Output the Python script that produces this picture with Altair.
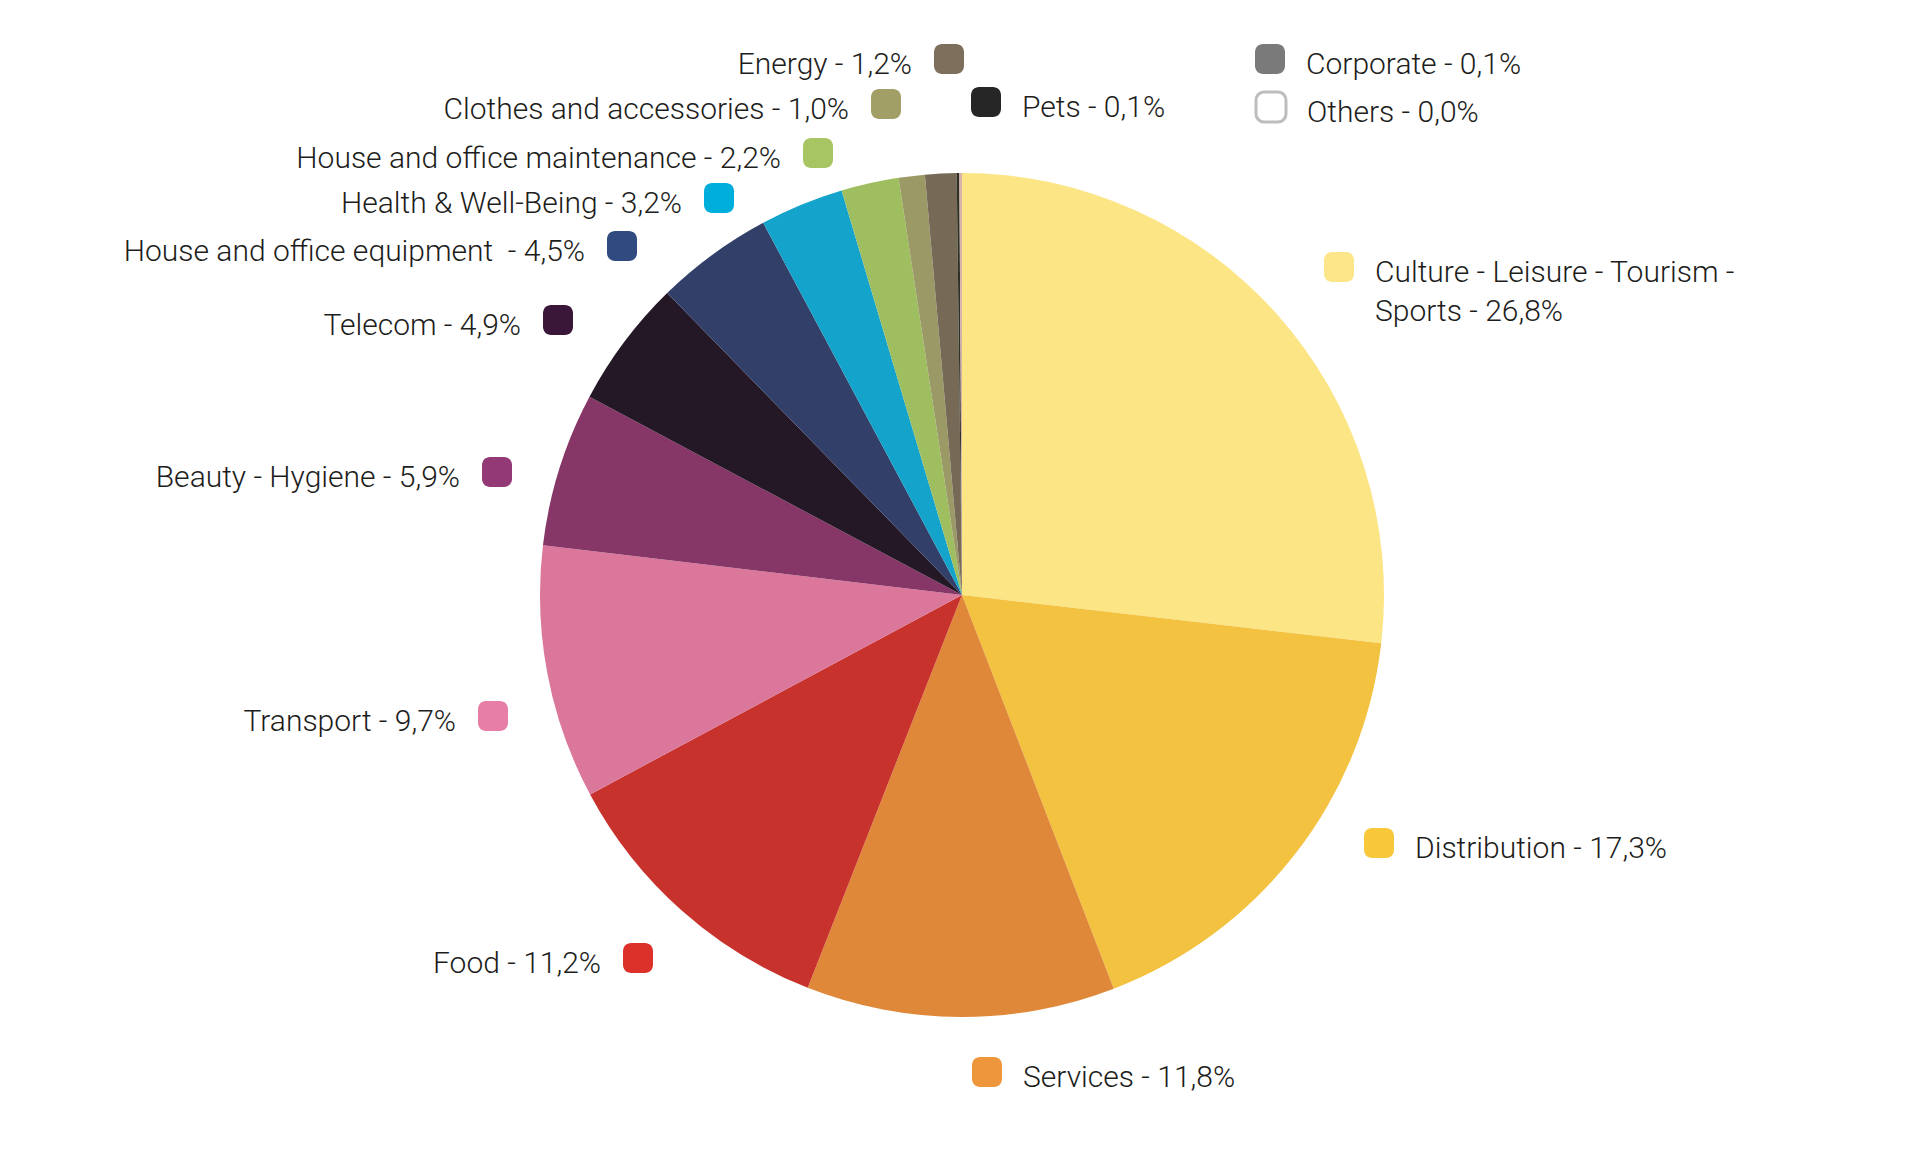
import altair as alt
import pandas as pd

# ---- data -------------------------------------------------------------
categories = [
    "Culture - Leisure - Tourism - Sports",
    "Distribution",
    "Services",
    "Food",
    "Transport",
    "Beauty - Hygiene",
    "Telecom",
    "House and office equipment",
    "Health & Well-Being",
    "House and office maintenance",
    "Clothes and accessories",
    "Energy",
    "Pets",
    "Corporate",
    "Others",
]
shares = [26.8, 17.3, 11.8, 11.2, 9.7, 5.9, 4.9, 4.5, 3.2, 2.2, 1.0, 1.2, 0.1, 0.1, 0.0]

# label wording as printed (line break / double space kept)
label_names = [
    "Culture - Leisure - Tourism -\nSports",
    "Distribution",
    "Services",
    "Food",
    "Transport",
    "Beauty - Hygiene",
    "Telecom",
    "House and office equipment\u00a0",
    "Health & Well-Being",
    "House and office maintenance",
    "Clothes and accessories",
    "Energy",
    "Pets",
    "Corporate",
    "Others",
]

# ---- styles -----------------------------------------------------------
slice_colors = [
    "#FCE584", "#F2C240", "#E08839", "#C8322D", "#DA779B", "#873767",
    "#241726", "#313F69", "#14A3CB", "#9EBE60", "#9B9966", "#766A57",
    "#2D3024", "#D9B3AA", "#FFFFFF",
]
swatch_colors = [
    "#FDE68A", "#F8C73A", "#EE963C", "#DC312B", "#E67EA6", "#933A76",
    "#3A1738", "#314A80", "#00AEDC", "#A8C564", "#A29F66", "#7E6F5D",
    "#262626", "#7A7A7A", "#FFFFFF",
]

# ---- label layout (swatch centres in page pixels, text side) ----------
layout = {
    "Culture - Leisure - Tourism - Sports": (1339, 267, "right"),
    "Distribution": (1379, 843, "right"),
    "Services": (987, 1072, "right"),
    "Food": (638, 958, "left"),
    "Transport": (493, 716, "left"),
    "Beauty - Hygiene": (497, 472, "left"),
    "Telecom": (558, 320, "left"),
    "House and office equipment": (622, 246, "left"),
    "Health & Well-Being": (719, 198, "left"),
    "House and office maintenance": (818, 153, "left"),
    "Clothes and accessories": (886, 104, "left"),
    "Energy": (949, 59, "left"),
    "Pets": (986, 102, "right"),
    "Corporate": (1270, 59, "right"),
    "Others": (1271, 107, "right"),
}

MARGIN = 8
CX, CY, R = 962 - MARGIN, 595 - MARGIN, 422
SW = 15  # half swatch size


def fmt(v):
    return f"{v:.1f}%".replace(".", ",")


rows = []
for i, (cat, v) in enumerate(zip(categories, shares)):
    sx, sy, side = layout[cat]
    sx -= MARGIN
    sy -= MARGIN
    rows.append({
        "idx": i,
        "category": cat,
        "share": v,
        "label": f"{label_names[i]} - {fmt(v)}",
        "slice_color": slice_colors[i],
        "swatch_color": swatch_colors[i],
        "x0": sx - SW, "x1": sx + SW,
        "y0": sy - SW, "y1": sy + SW,
        "tx": sx + SW + 21 if side == "right" else sx - SW - 22,
        "ty": sy + SW,
        "align": side,
        "stroke": "#BDBDBD" if cat == "Others" else swatch_colors[i],
        "sw": 3 if cat == "Others" else 0,
    })
df = pd.DataFrame(rows)

pie = alt.Chart(df).mark_arc(radius=R).encode(
    theta=alt.Theta("share:Q", stack=True),
    order=alt.Order("idx:Q"),
    fill=alt.Fill("slice_color:N", scale=None),
    x=alt.value(CX),
    y=alt.value(CY),
)

swatches = alt.Chart(df).mark_rect(cornerRadius=8).encode(
    x=alt.X("x0:Q", scale=None),
    x2="x1:Q",
    y=alt.Y("y0:Q", scale=None),
    y2="y1:Q",
    fill=alt.Fill("swatch_color:N", scale=None),
    stroke=alt.Stroke("stroke:N", scale=None),
    strokeWidth=alt.StrokeWidth("sw:Q", scale=None),
)

text_style = dict(font="Roboto", fontWeight=300, fontSize=30, color="#1d1d1b",
                  baseline="alphabetic", lineBreak="\n", lineHeight=39)

text_left = alt.Chart(df).transform_filter("datum.align == 'left'").mark_text(
    align="right", **text_style
).encode(
    x=alt.X("tx:Q", scale=None),
    y=alt.Y("ty:Q", scale=None),
    text="label:N",
)
text_right = alt.Chart(df).transform_filter("datum.align == 'right'").mark_text(
    align="left", **text_style
).encode(
    x=alt.X("tx:Q", scale=None),
    y=alt.Y("ty:Q", scale=None),
    text="label:N",
)

chart = alt.layer(pie, swatches, text_left, text_right).properties(
    width=1900, height=1150, padding=0, autosize="none"
).configure_view(stroke=None)

chart.save("out.html", embed_options={"renderer": "svg", "actions": False})
